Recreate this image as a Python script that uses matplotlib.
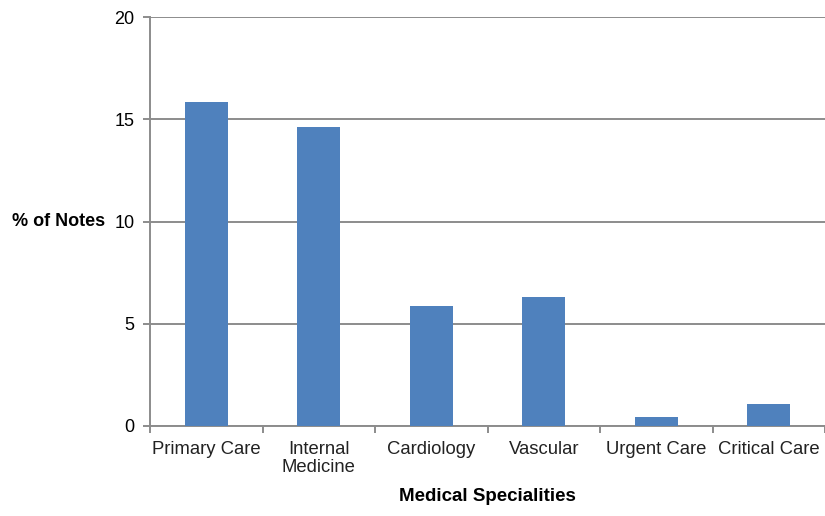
import matplotlib
matplotlib.use('Agg')
import numpy as np
import matplotlib.pyplot as plt

plt.rcParams['font.family'] = ['Liberation Sans', 'DejaVu Sans']

specialities = ['Primary Care', 'Internal\nMedicine', 'Cardiology', 'Vascular',
                'Urgent Care', 'Critical Care']
pct_notes = [15.85, 14.6, 5.87, 6.3, 0.46, 1.08]
yticks = [0, 5, 10, 15, 20]

fig = plt.figure(figsize=(8.25, 5.16), dpi=100)
ax = fig.add_axes([150 / 825, 90 / 516, 675 / 825, 409 / 516])

x = np.arange(len(specialities))
ax.bar(x, pct_notes, width=0.38, color='#4f81bd', zorder=3)

ax.set_xlim(-0.5, len(specialities) - 0.5)
ax.set_ylim(0, 20)
ax.set_yticks(yticks)
ax.set_yticklabels([str(t) for t in yticks], fontsize=13)
ax.yaxis.grid(True, color='#8c8c8c', linewidth=1.4, zorder=0)
ax.tick_params(axis='y', length=5, width=1.4, color='#8c8c8c', pad=6)

# category labels centred, tick marks at category boundaries
ax.set_xticks(x)
ax.set_xticklabels(specialities, fontsize=13.3, color='#222222', linespacing=1.05)
ax.tick_params(axis='x', length=0, pad=11)
ax.set_xticks(np.arange(len(specialities) + 1) - 0.5, minor=True)
ax.tick_params(axis='x', which='minor', length=5, width=1.4, color='#8c8c8c')

for s in ['top', 'right']:
    ax.spines[s].set_visible(False)
for s in ['left', 'bottom']:
    ax.spines[s].set_color('#8c8c8c')
    ax.spines[s].set_linewidth(1.4)

ax.set_xlabel('Medical Specialities', fontsize=13.5, fontweight='bold', labelpad=9)
fig.text(12 / 825, 1 - 222 / 516, '% of Notes', fontsize=13, fontweight='bold',
         ha='left', va='center')

fig.savefig('out.png', dpi=100)
